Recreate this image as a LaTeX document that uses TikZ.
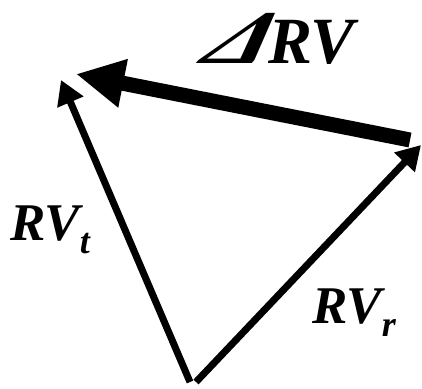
\documentclass[tikz,border=0pt]{standalone}
\usepackage{fontspec}
\setmainfont{Liberation Serif}
\newfontfamily\deltafont[FakeSlant=0.65,FakeStretch=1.3]{Liberation Serif}
\usetikzlibrary{arrows.meta}
\tikzset{
  vec/.style={line width=7pt, line cap=butt, -{Triangle[length=24pt,width=27pt]}},
  dvec/.style={line width=15pt, line cap=butt, -{Triangle[length=48pt,width=46pt]}},
  lab/.style={anchor=base west, inner sep=0pt, font=\bfseries\itshape}
}
\newcommand{\bigfs}{\fontsize{53}{60}\selectfont}
\newcommand{\subfs}{\fontsize{36}{40}\selectfont}
\begin{document}
\begin{tikzpicture}[x=1pt,y=-1pt]
\useasboundingbox (0,0) rectangle (422,388);
\coordinate (O1) at (190,382);
\coordinate (O2) at (196,382);
\coordinate (Tt) at (61,80);
\coordinate (Tr) at (421,145);
\coordinate (Ds) at (410,140);
\coordinate (De) at (76,74);
\draw[vec] (O1) -- (Tt);
\draw[vec] (O2) -- (Tr);
\draw[dvec] (Ds) -- (De);
\node[lab] (lt) at (10,240) {\bigfs RV\raisebox{-13pt}{\subfs t}};
\node[lab] (lr) at (312,323) {\bigfs RV\raisebox{-13pt}{\subfs r}};
\node[lab] (ld) at (199,63) {{\fontsize{76}{90}\selectfont\deltafont Δ}\kern7pt{\fontsize{66}{72}\selectfont RV}};
\end{tikzpicture}
\end{document}
